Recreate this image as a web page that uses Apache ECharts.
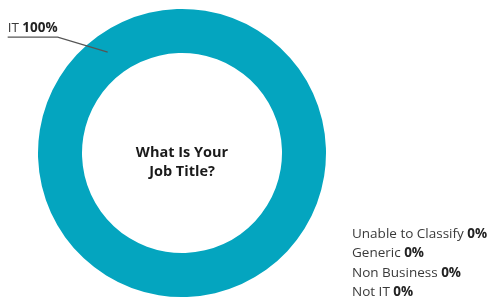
<!DOCTYPE html>
<html>
<head>
<meta charset="utf-8">
<script src="https://cdn.jsdelivr.net/npm/echarts@6/dist/echarts.min.js"></script>
<style>
  html, body { margin: 0; padding: 0; background: #fff; }
  #chart { width: 491px; height: 297px; }
</style>
</head>
<body>
<div id="chart"></div>
<script>
// answers to "What Is Your Job Title?"
var categories = ['IT', 'Unable to Classify', 'Generic', 'Non Business', 'Not IT'];
var values = [100, 0, 0, 0, 0];
var legendNames = ['Unable to Classify', 'Generic', 'Non Business', 'Not IT'];
var centerTitle = 'What Is Your\nJob Title?';

var total = values.reduce(function (a, b) { return a + b; }, 0);
var pct = {};
categories.forEach(function (c, i) {
  pct[c] = Math.round(values[i] / total * 100) + '%';
});

var fontFamily = '"Open Sans", sans-serif';
var ringCenter = [182, 153];
var ringRadius = [100, 144];

function buildData(withLabels) {
  return categories.map(function (c, i) {
    var item = { name: c, value: values[i] };
    if (withLabels && values[i] > 0) {
      item.label = { show: true };
      item.labelLine = { show: true };
    }
    return item;
  });
}

var chart = echarts.init(document.getElementById('chart'));
chart.setOption({
  animation: false,
  title: {
    text: centerTitle,
    left: 177,
    top: 138.5,
    textAlign: 'center',
    textStyle: {
      fontFamily: fontFamily,
      fontSize: 14.5,
      fontWeight: 'bold',
      color: '#1a1a1a',
      lineHeight: 19
    }
  },
  legend: {
    orient: 'vertical',
    left: 347,
    top: 227,
    height: 90,
    padding: 0,
    icon: 'none',
    itemWidth: 0,
    itemHeight: 8,
    itemGap: 5.5,
    selectedMode: false,
    data: legendNames,
    formatter: function (name) {
      return name + ' {b|' + pct[name] + '}';
    },
    textStyle: {
      fontFamily: fontFamily,
      fontSize: 13.5,
      lineHeight: 12,
      color: '#3a3a3a',
      rich: {
        b: { fontFamily: fontFamily, fontSize: 13.5, lineHeight: 12, fontWeight: 'bold', color: '#222' }
      }
    }
  },
  series: [
    {
      // the ring itself
      type: 'pie',
      center: ringCenter,
      radius: ringRadius,
      startAngle: 317,
      silent: true,
      color: ['#04a5bf'],
      label: { show: false },
      labelLine: { show: false },
      data: buildData(false)
    },
    {
      // same slices, invisible, carrying the leader label above the ring
      type: 'pie',
      z: 3,
      center: ringCenter,
      radius: ringRadius,
      startAngle: 317,
      silent: true,
      avoidLabelOverlap: false,
      itemStyle: { color: 'rgba(0,0,0,0)' },
      label: {
        show: false,
        position: 'outside',
        distanceToLabelLine: -50,
        padding: [0, 0, 18, 0],
        formatter: function (p) {
          return p.name + ' {b|' + pct[p.name] + '}';
        },
        fontFamily: fontFamily,
        fontSize: 13.5,
        color: '#3a3a3a',
        rich: {
          b: { fontFamily: fontFamily, fontSize: 13.5, fontWeight: 'bold', color: '#222' }
        }
      },
      labelLine: {
        show: false,
        length: 26,
        length2: 50,
        lineStyle: { color: '#555', width: 1.2 }
      },
      // bend the leader so it runs shallow into the middle of the ring
      labelLayout: function (params) {
        var pts = params.labelLinePoints;
        if (!pts || pts.length < 3) return {};
        var elbow = pts[1];
        return {
          labelLinePoints: [
            [elbow[0] + 50, elbow[1] + 15],
            [elbow[0], elbow[1]],
            [pts[2][0], pts[2][1]]
          ]
        };
      },
      data: buildData(true)
    }
  ]
});
</script>
</body>
</html>
